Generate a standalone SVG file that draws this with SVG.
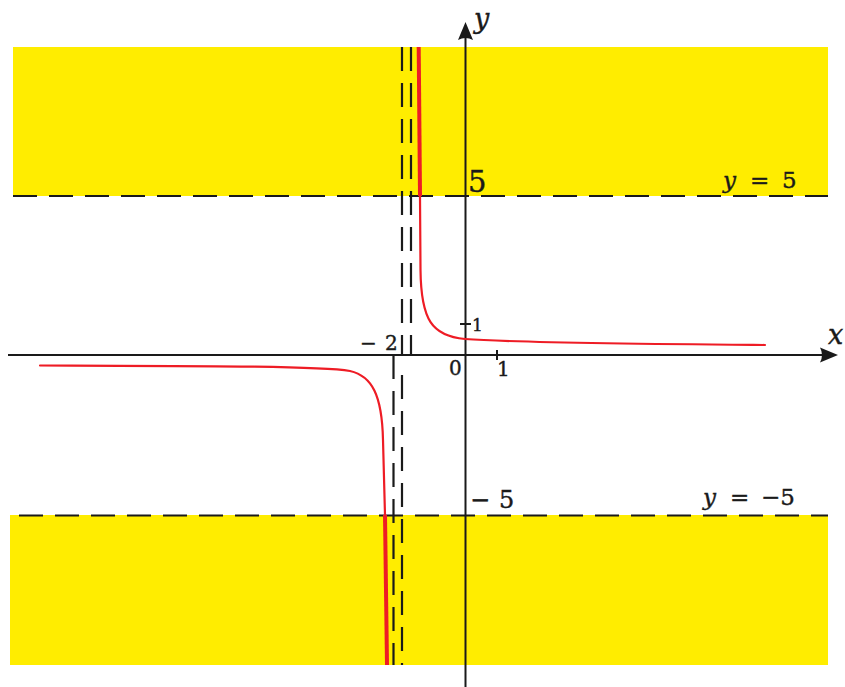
<svg xmlns="http://www.w3.org/2000/svg" width="845" height="687" viewBox="0 0 845 687">
<style>
.band{fill:#FFED00}
.axis{stroke:#1a1a1a;stroke-width:2;fill:none}
.dash{stroke:#1a1a1a;stroke-width:2.2;fill:none;stroke-dasharray:24 12}
.curve{stroke:#EE1C25;stroke-width:2.2;fill:none;stroke-linecap:round}
.thick{stroke:#EE1C25;stroke-width:4;fill:none}
text{fill:#1a1a1a;stroke:#1a1a1a;stroke-width:0.4;font-family:"DejaVu Serif","Liberation Serif",serif}
</style>
<g id="bands">
<rect class="band" x="13" y="47" width="815" height="149"/>
<rect class="band" x="10" y="515" width="818" height="150"/>
</g>
<g id="asymptotes">
<line class="dash" x1="13" y1="196" x2="828" y2="196"/>
<line class="dash" x1="13" y1="515.5" x2="828" y2="515.5" stroke-dashoffset="-6"/>
<line class="dash" x1="402" y1="47" x2="402" y2="355"/>
<line class="dash" x1="411" y1="47" x2="411" y2="355"/>
<line class="dash" x1="393.5" y1="355" x2="393.5" y2="665"/>
<line class="dash" x1="402" y1="375" x2="402" y2="665"/>
</g>
<g id="axes">
<line class="axis" x1="8" y1="355" x2="826" y2="355"/>
<path d="M838,355 L820,347.5 Q824,355 820,362.5 Z" fill="#1a1a1a"/>
<line class="axis" x1="465.5" y1="687" x2="465.5" y2="36"/>
<path d="M465.5,22 L458,40 Q465.5,36 473,40 Z" fill="#1a1a1a"/>
<line class="axis" x1="497" y1="350" x2="497" y2="360"/>
<line class="axis" x1="460" y1="324" x2="471" y2="324"/>
</g>
<g id="curves">
<path class="thick" d="M418.7,47 L420,196"/>
<path class="curve" d="M420,196 L420.5,270 C421,320 432,336 465,339 C520,343 650,344 765,345"/>
<path class="curve" d="M40,365.5 C200,366 320,366 350,371 C372,376 382,395 383,440 L385,515"/>
<path class="thick" d="M385,515 L387,665"/>
</g>
<g id="labels">
<text x="474" y="28" font-size="27" font-style="italic">y</text>
<text x="828" y="344" font-size="27" font-style="italic">x</text>
<text x="468" y="192" font-size="29">5</text>
<text x="470" y="508" font-size="24">−</text>
<text x="499" y="508" font-size="24">5</text>
<text x="360" y="350" font-size="20">−</text>
<text x="385" y="350" font-size="20">2</text>
<text x="449" y="375" font-size="20">0</text>
<text x="497" y="376" font-size="20">1</text>
<text x="472" y="331" font-size="17">1</text>
<text x="723" y="188" font-size="23" font-style="italic">y</text>
<text x="750" y="188" font-size="23">=</text>
<text x="782" y="188" font-size="23">5</text>
<text x="703" y="505" font-size="23" font-style="italic">y</text>
<text x="730" y="505" font-size="23">=</text>
<text x="761" y="505" font-size="23">−5</text>
</g>
</svg>
